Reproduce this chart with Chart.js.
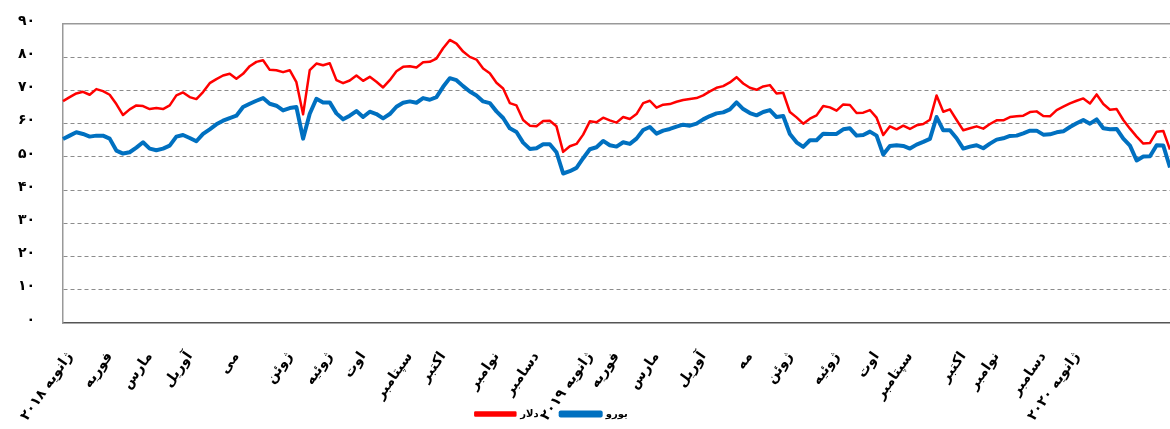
<!DOCTYPE html>
<html lang="fa">
<head>
  <meta charset="UTF-8">
  <title>برنت به دلار و یورو</title>
  <script src="https://cdn.jsdelivr.net/npm/chart.js"></script>
  <style>
    body { margin: 0; background: #fff; }
    #wrap { position: relative; width: 1170px; height: 429px; }
  </style>
</head>
<body>
  <div id="wrap"><canvas id="chart"></canvas></div>

  <script>
    // series (about 1.5 points a week, Jan 2018 - Mar 2020)
    const dollar = [
      66.8, 68, 69.1, 69.6, 68.7, 70.4, 69.8, 68.7, 65.9, 62.6, 64.3, 65.5, 65.3, 64.4, 64.7, 64.4, 65.5, 68.5, 69.4, 68, 67.4, 69.5,
      72.2, 73.4, 74.5, 75, 73.5, 75, 77.3, 78.6, 79.1, 76.2, 76.1, 75.5, 76.1, 72.5, 62.8, 76.1, 78.1, 77.6, 78.2, 73.1, 72.2, 73,
      74.5, 72.9, 74.1, 72.6, 70.9, 73.1, 75.8, 77.1, 77.3, 76.9, 78.5, 78.6, 79.6, 82.7, 85.2, 84.1, 81.7, 80.1, 79.3, 76.6, 75.2,
      72.3, 70.6, 66.2, 65.5, 61.1, 59.4, 59.2, 60.8, 60.9, 59.2, 51.5, 53.2, 53.9, 56.7, 60.7, 60.4, 61.8, 61, 60.3, 62, 61.4,
      62.9, 66.2, 66.9, 64.8, 65.7, 65.9, 66.6, 67.1, 67.4, 67.7, 68.5, 69.7, 70.8, 71.3, 72.4, 74, 72.1, 70.8, 70.2, 71.2, 71.6,
      69.1, 69.3, 63.5, 61.9, 60, 61.5, 62.5, 65.3, 64.9, 63.9, 65.8, 65.6, 63.2, 63.3, 64.1, 61.8, 56.6, 59.2, 58.3, 59.4, 58.4,
      59.5, 59.9, 61.2, 68.5, 63.6, 64.3, 61.1, 58, 58.6, 59.2, 58.5, 59.9, 61, 61, 62, 62.2, 62.4, 63.5, 63.7, 62.3,
      62.2, 64.1, 65.1, 66.1, 66.9, 67.6, 66.1, 68.8, 65.9, 64.2, 64.4, 61.1, 58.5, 56.1, 54, 54.2, 57.6, 57.8, 52.2
    ];
    const euro = [
      55.4, 56.4, 57.4, 56.9, 56.1, 56.4, 56.4, 55.5, 51.9, 51, 51.4, 52.8, 54.4, 52.5, 52, 52.5, 53.4, 56.1, 56.6, 55.7, 54.7, 56.9,
      58.3, 59.8, 60.9, 61.7, 62.4, 65, 66, 66.9, 67.7, 66, 65.4, 64, 64.7, 65, 55.5, 63, 67.5, 66.4, 66.4, 63.1, 61.3, 62.4,
      63.8, 62, 63.6, 62.9, 61.6, 62.9, 65.1, 66.3, 66.7, 66.3, 67.7, 67.2, 68, 71.1, 73.7, 73.1, 71.3, 69.7, 68.5, 66.7, 66.2,
      63.7, 61.7, 58.6, 57.5, 54.3, 52.4, 52.6, 53.8, 53.8, 51.4, 45, 45.7, 46.7, 49.6, 52.3, 52.9, 54.8, 53.5, 53.1, 54.4, 53.9,
      55.5, 58.1, 59, 57, 57.9, 58.4, 59.1, 59.7, 59.4, 60, 61.3, 62.3, 63.1, 63.4, 64.3, 66.4, 64.4, 63.2, 62.5, 63.5, 64.1,
      62, 62.3, 56.9, 54.4, 53, 55, 55, 57, 56.9, 56.9, 58.3, 58.6, 56.4, 56.6, 57.6, 56.4, 50.7, 53.3, 53.5, 53.3, 52.5,
      53.7, 54.5, 55.4, 62, 58, 58, 55.6, 52.5, 53.1, 53.5, 52.6, 54, 55.2, 55.6, 56.3, 56.4, 57.1, 57.9, 57.9, 56.7,
      56.8, 57.4, 57.7, 59, 60.1, 61.1, 60, 61.3, 58.6, 58.3, 58.4, 55.5, 53.4, 48.9, 50.1, 50.2, 53.5, 53.4, 46.8
    ];

    // month names and the point where each one is written
    const monthNames = ['ژانویه ۲۰۱۸', 'فوریه', 'مارس', 'آوریل', 'می', 'ژوئن', 'ژوئیه', 'اوت', 'سپتامبر', 'اکتبر', 'نوامبر', 'دسامبر',
      'ژانویه ۲۰۱۹', 'فوریه', 'مارس', 'آوریل', 'مه', 'ژوئن', 'ژوئیه', 'اوت', 'سپتامبر', 'اکتبر', 'نوامبر', 'دسامبر', 'ژانویه ۲۰۲۰'];
    const monthAt = [1, 7, 13, 19, 26, 34, 40, 45, 52, 57, 65, 71, 79, 83, 89, 96, 103, 109, 116, 122, 127, 135, 140, 147, 152];

    const yTickLabels = ['۰', '۱۰', '۲۰', '۳۰', '۴۰', '۵۰', '۶۰', '۷۰', '۸۰', '۹۰'];
    const seriesNames = ['دلار', 'یورو'];

    const labels = dollar.map(() => '');
    monthAt.forEach((idx, k) => { labels[idx] = monthNames[k]; });

    new Chart(document.getElementById('chart'), {
      type: 'line',
      data: {
        labels: labels,
        datasets: [
          { label: seriesNames[0], data: dollar, borderColor: '#ff0000', backgroundColor: '#ff0000', borderWidth: 2.5 },
          { label: seriesNames[1], data: euro, borderColor: '#0070c0', backgroundColor: '#0070c0', borderWidth: 4 }
        ]
      },
      options: {
        responsive: true,
        maintainAspectRatio: false,
        animation: false,
        layout: { padding: { top: 24, left: 0, right: 0, bottom: 0 } },
        elements: { point: { radius: 0 }, line: { tension: 0, borderJoinStyle: 'round' } },
        plugins: {
          tooltip: { enabled: false },
          legend: {
            position: 'bottom',
            labels: {
              boxWidth: 40, boxHeight: 3, padding: 22, color: '#000',
              font: { family: 'DejaVu Sans', size: 10, weight: 'bold' },
              // an empty third item keeps the pair a little left of centre, as in the original
              generateLabels: (chart) => {
                const items = Chart.defaults.plugins.legend.labels.generateLabels(chart);
                items.push({ text: '', fillStyle: 'rgba(0,0,0,0)', strokeStyle: 'rgba(0,0,0,0)', lineWidth: 0, hidden: false, datasetIndex: -1 });
                return items;
              }
            }
          }
        },
        scales: {
          x: {
            type: 'category',
            offset: false,
            grid: { display: false, drawTicks: false },
            border: { display: true, color: '#555', width: 1.5 },
            ticks: {
              autoSkip: false, minRotation: 55, maxRotation: 55, padding: 26, color: '#000',
              font: { family: 'DejaVu Sans', size: 14, weight: 'bold' }
            },
            afterFit: (s) => {
              s.height = 64;
              s.paddingLeft = 0;
              s.paddingRight = 0;
              // month names run down over the legend, as in the original
              s._computeLabelArea = () => null;
            }
          },
          x2: {
            type: 'category',
            position: 'top',
            grid: { display: false, drawTicks: false },
            border: { display: true, color: '#999', width: 1.5 },
            ticks: { display: false },
            afterFit: (s) => { s.height = 0; }
          },
          y: {
            min: 0, max: 90,
            grid: {
              drawTicks: false,
              color: (ctx) => (ctx.tick && ctx.tick.value > 0 && ctx.tick.value < 90) ? '#8c8c8c' : 'rgba(0,0,0,0)'
            },
            border: { display: true, color: '#999', width: 1.5, dash: [4, 3] },
            ticks: {
              stepSize: 10, padding: 28, labelOffset: -3, color: '#000',
              font: { family: 'DejaVu Sans', size: 14, weight: 'bold' },
              callback: (v) => yTickLabels[v / 10]
            },
            afterFit: (s) => {
              s.width = 63;
              s.paddingTop = 0;
              s.paddingBottom = 0;
            }
          }
        }
      }
    });
  </script>
</body>
</html>
